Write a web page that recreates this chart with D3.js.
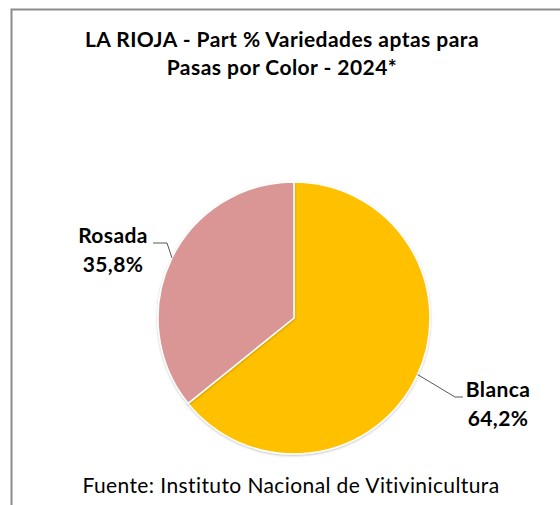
<!DOCTYPE html>
<html>
<head>
<meta charset="utf-8">
<script src="https://cdn.jsdelivr.net/npm/d3@7"></script>
<style>
	body { margin: 0; background: #fff; }
	text { font-family: Lato, "Open Sans", sans-serif; fill: #000; }
</style>
</head>
<body>
<div id="chart"></div>
<script>
var categories = ["Blanca", "Rosada"]
var values = [64.2, 35.8]
var valueLabels = ["64,2%", "35,8%"]
var colors = ["#FFC000", "#D99694"]
var titleLines = ["LA RIOJA - Part % Variedades aptas para", "Pasas por Color - 2024*"]
var source = "Fuente: Instituto Nacional de Vitivinicultura"

var width = 560, height = 505
var cx = 294, cy = 318, radius = 136

const svg = d3.select("#chart")
	.append("svg")
	.attr("width", width)
	.attr("height", height)

// frame
svg.append("path")
	.attr("d", "M11.5,505 V9.5 H560")
	.attr("fill", "none")
	.attr("stroke", "#8c8c8c")
	.attr("stroke-width", 2)

// title
svg.selectAll(".title")
	.data(titleLines)
	.enter().append("text")
	.attr("class", "title")
	.attr("x", 282)
	.attr("y", (d, i) => 47 + i * 28)
	.attr("text-anchor", "middle")
	.attr("font-size", 21)
	.attr("letter-spacing", 0.45)
	.attr("font-weight", "bold")
	.text(d => d)

const data = categories.map((c, i) => ({name: c, value: values[i], label: valueLabels[i], color: colors[i]}))

const pie = d3.pie().sort(null).value(d => d.value)
const arc = d3.arc().innerRadius(0).outerRadius(radius)

const defs = svg.append("defs")
const filter = defs.append("filter").attr("id", "shadow").attr("x", "-10%").attr("y", "-10%").attr("width", "120%").attr("height", "120%")
filter.append("feDropShadow").attr("dx", 0).attr("dy", 1).attr("stdDeviation", 1.2).attr("flood-color", "#000").attr("flood-opacity", 0.25)

const g = svg.append("g")
	.attr("transform", `translate(${cx},${cy})`)

g.selectAll("path")
	.data(pie(data))
	.enter().append("path")
	.attr("d", arc)
	.attr("fill", d => d.data.color)
	.attr("stroke", "#fff")
	.attr("stroke-width", 1.5)
	.attr("filter", "url(#shadow)")

// leader lines and labels (angle where the leader touches the pie, elbow, end, label centre)
var labelPos = {
	Blanca: {angle: 2.0, elbow: [455, 397], end: [463, 397], text: [498, 397]},
	Rosada: {angle: 5.17, elbow: [167, 243], end: [153, 243], text: [113, 243]}
}

pie(data).forEach(function(d) {
	let pos = labelPos[d.data.name]
	let px = cx + Math.sin(pos.angle) * radius
	let py = cy - Math.cos(pos.angle) * radius
	svg.append("polyline")
		.attr("points", `${px},${py} ${pos.elbow[0]},${pos.elbow[1]} ${pos.end[0]},${pos.end[1]}`)
		.attr("fill", "none")
		.attr("stroke", "#595959")
		.attr("stroke-width", 1)
	svg.append("text")
		.attr("x", pos.text[0])
		.attr("y", pos.text[1])
		.attr("text-anchor", "middle")
		.attr("font-size", 21)
		.attr("letter-spacing", 0.4)
		.attr("font-weight", "bold")
		.text(d.data.name)
	svg.append("text")
		.attr("x", pos.text[0])
		.attr("y", pos.text[1] + 29)
		.attr("text-anchor", "middle")
		.attr("font-size", 21)
		.attr("letter-spacing", 0.4)
		.attr("font-weight", "bold")
		.text(d.data.label)
})

// source
svg.append("text")
	.attr("x", 291)
	.attr("y", 493)
	.attr("text-anchor", "middle")
	.attr("font-size", 21)
	.attr("letter-spacing", 0.4)
	.text(source)
</script>
</body>
</html>
